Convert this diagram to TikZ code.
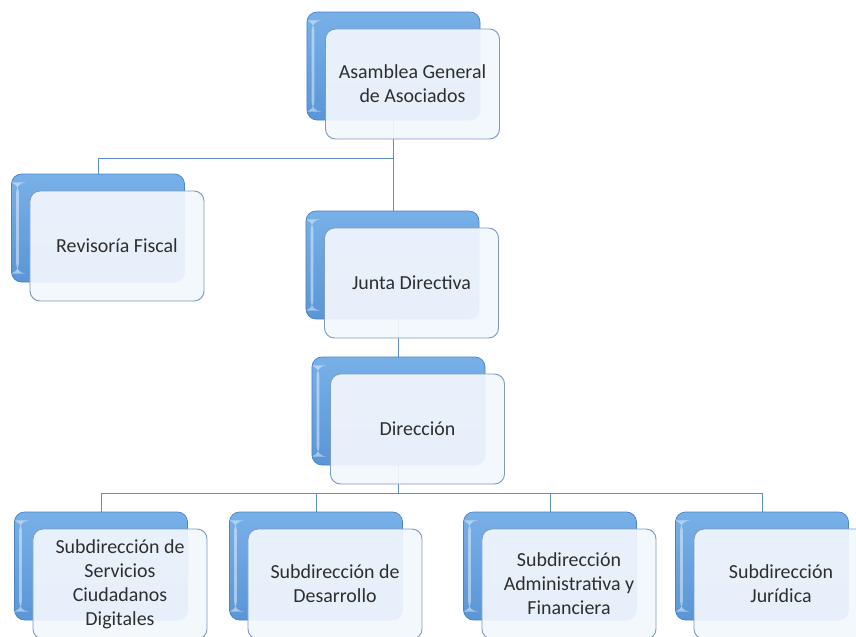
\documentclass[tikz,border=0pt]{standalone}
\usepackage{fontspec}
\setmainfont{Carlito}
\usepackage{tikz}
\usetikzlibrary{positioning,backgrounds}

\definecolor{blueTop}{HTML}{78B0E8}
\definecolor{blueBot}{HTML}{5A96D6}
\definecolor{blueEdge}{HTML}{4A84C4}
\definecolor{frontFill}{HTML}{F2F7FD}
\definecolor{frontEdge}{HTML}{7E9BBE}
\definecolor{linkBlue}{HTML}{5C8FC8}
\definecolor{textGray}{HTML}{2E2E2E}

\tikzset{
  backbox/.style={rectangle, rounded corners=0.3cm, minimum width=5.19cm,
    minimum height=3.24cm, draw=blueEdge, line width=0.6pt,
    top color=blueTop, bottom color=blueBot,
    path picture={\fill[white, opacity=0.45]
      ([xshift=0.14cm,yshift=-0.25cm]path picture bounding box.north west) rectangle
      ([xshift=0.22cm,yshift=0.25cm]path picture bounding box.south west);}},
  frontbox/.style={rectangle, rounded corners=0.3cm, minimum width=5.22cm,
    minimum height=3.3cm, draw=frontEdge, line width=0.8pt,
    fill=frontFill, fill opacity=0.93, text opacity=1, text=textGray,
    align=center, font=\fontsize{17}{20.5}\selectfont},
  link/.style={draw=linkBlue, line width=0.8pt}
}

\begin{document}
\begin{tikzpicture}[x=0.03cm, y=-0.03cm]
    \useasboundingbox (0,0) rectangle (856,637);

    % upper levels
    \node[backbox] (asambleaB) at (393.5,66) {};
    \node[frontbox] (asamblea) at ([shift={(19,18)}]asambleaB.center) {Asamblea General\\de Asociados};

    \node[backbox] (revisoriaB) at (98,228) {};
    \node[frontbox] (revisoria) at ([shift={(19,18)}]revisoriaB.center) {Revisoría Fiscal};

    \node[backbox] (juntaB) at (392.5,265) {};
    \node[frontbox] (junta) at ([shift={(19,18)}]juntaB.center) {Junta Directiva};

    \node[backbox] (direccionB) at (398.5,411) {};
    \node[frontbox] (direccion) at ([shift={(19,18)}]direccionB.center) {Dirección};

    % subdirecciones
    \node[backbox] (serviciosB) at (101,566) {};
    \node[frontbox] (servicios) at ([shift={(19,18)}]serviciosB.center) {Subdirección de\\Servicios\\Ciudadanos\\Digitales};

    \node[backbox] (desarrolloB) at (316,566) {};
    \node[frontbox] (desarrollo) at ([shift={(19,18)}]desarrolloB.center) {Subdirección de\\Desarrollo};

    \node[backbox] (administrativaB) at (550,566) {};
    \node[frontbox] (administrativa) at ([shift={(19,18)}]administrativaB.center) {Subdirección\\Administrativa y\\Financiera};

    \node[backbox] (juridicaB) at (762,566) {};
    \node[frontbox] (juridica) at ([shift={(19,18)}]juridicaB.center) {Subdirección\\Jurídica};

    \begin{scope}[on background layer]
        \draw[link] (asambleaB.south) -- (asambleaB.south |- juntaB.north);
        \draw[link] (asambleaB.south) ++(0,38) coordinate (busTop) -| (revisoriaB.north);
        \draw[link] (direccionB.north) -- (direccionB.north |- juntaB.south);
        \draw[link] (direccionB.south) -- ++(0,28) coordinate (busLow);
        \foreach \sub in {serviciosB,desarrolloB,administrativaB,juridicaB}
            \draw[link] (busLow) -| (\sub.north);
    \end{scope}
\end{tikzpicture}
\end{document}
